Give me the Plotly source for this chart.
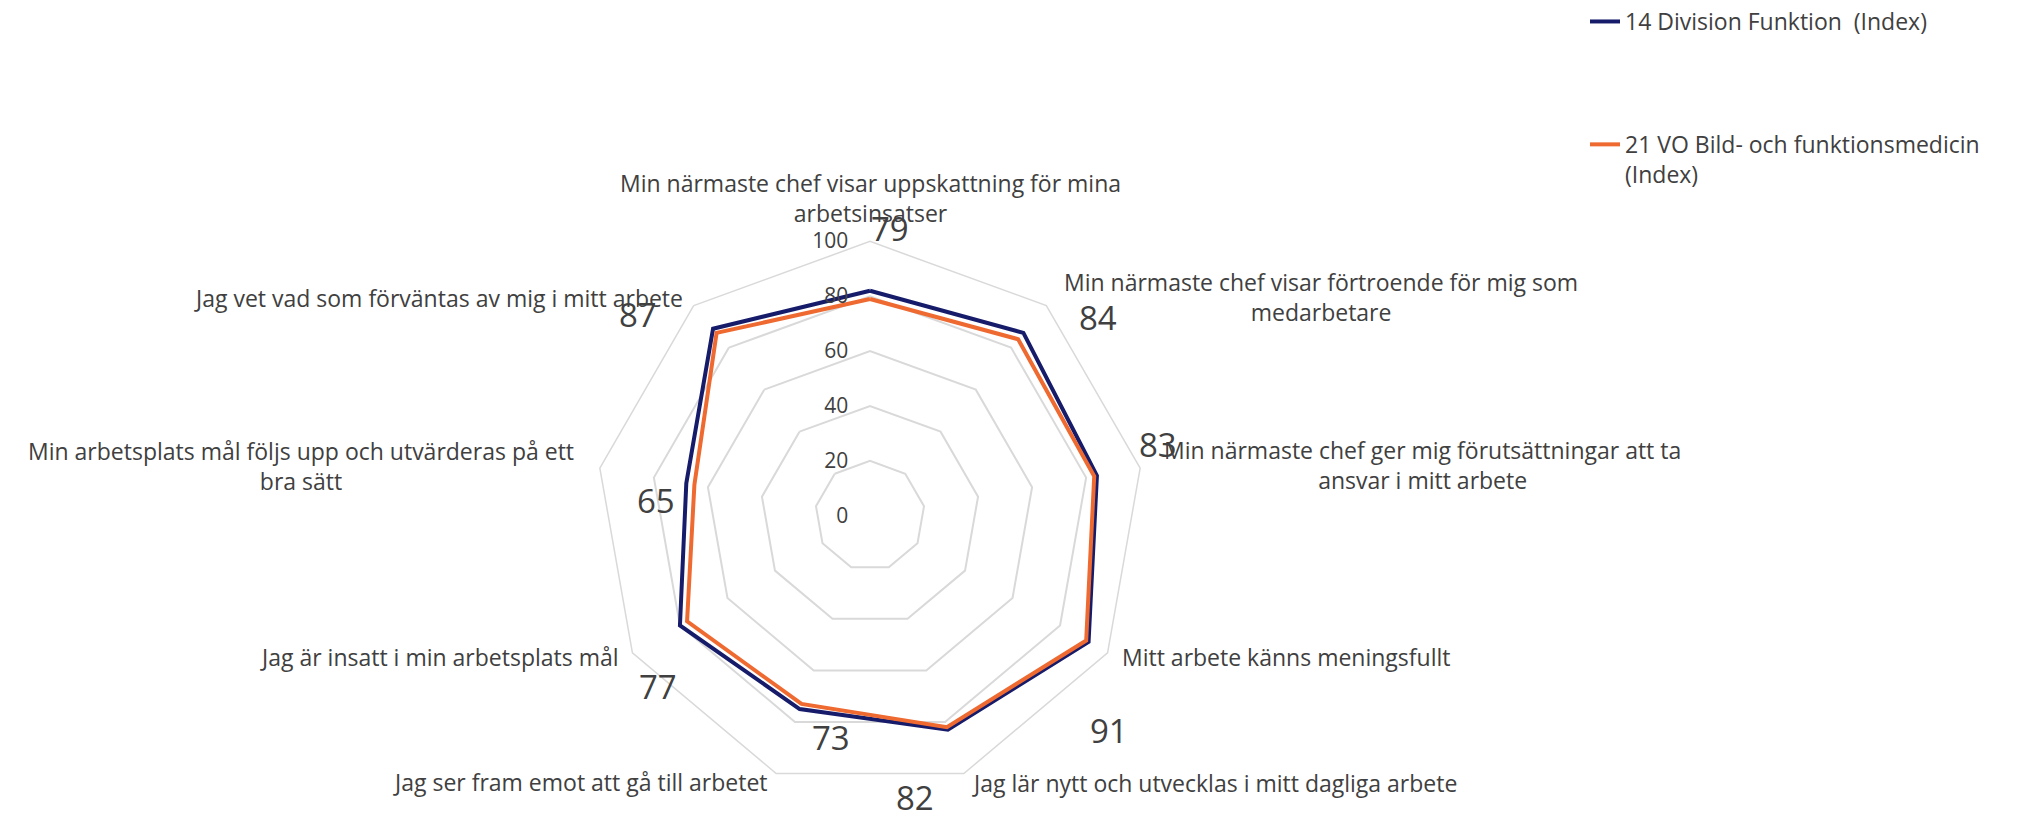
import math
import plotly.graph_objects as go

W, H = 2021, 813

categories = [
    "Min närmaste chef visar uppskattning för mina<br>arbetsinsatser",
    "Min närmaste chef visar förtroende för mig som<br>medarbetare",
    "Min närmaste chef ger mig förutsättningar att ta<br>ansvar i mitt arbete",
    "Mitt arbete känns meningsfullt",
    "Jag lär nytt och utvecklas i mitt dagliga arbete",
    "Jag ser fram emot att gå till arbetet",
    "Jag är insatt i min arbetsplats mål",
    "Min arbetsplats mål följs upp och utvärderas på ett<br>bra sätt",
    "Jag vet vad som förväntas av mig i mitt arbete",
]
division = [82, 87, 84, 92, 83, 75, 80, 68, 89]
vo_bild = [79, 84, 83, 91, 82, 73, 77, 65, 87]

name_division = "14 Division Funktion\u00a0 (Index)"
name_vo = "21 VO Bild- och funktionsmedicin<br>(Index)"

NAVY = "#161C6A"
ORANGE = "#EE6A31"
TEXT = "#404040"
GRID = "#D9D9D9"
FONT = "Open Sans"

# polar centre and outer radius in pixels (domain is built from these)
cx, cy, R = 870, 515, 275
RMAX = 100

# where the value labels sit (radius in axis units, angular nudge in degrees)
label_r = [105, 110, 108, 117, 104, 82, 99, 78, 112]
label_dtheta = [4, 9, -4, 12, 11, -10, -9, -6, -9]

# category label placement in pixels: (x, y, xanchor)
cat_pos = [
    (870, 196, "center"),
    (1321, 296, "center"),
    (1422, 464, "center"),
    (1120, 657, "left"),
    (970, 783, "left"),
    (770, 782, "right"),
    (621, 657, "right"),
    (301, 465, "center"),
    (685, 297, "right"),
]

fig = go.Figure()

fig.add_trace(go.Scatterpolar(
    r=division + division[:1], theta=categories + categories[:1],
    mode="lines", name=name_division, legendgroup="a",
    line=dict(color=NAVY, width=4),
))
fig.add_trace(go.Scatterpolar(
    r=vo_bild + vo_bild[:1], theta=categories + categories[:1],
    mode="lines", name=name_vo, legendgroup="b",
    line=dict(color=ORANGE, width=4),
))

# value labels (orange series), placed around the outer ring
step = 360 / len(categories)
for i, (v, lr, dt) in enumerate(zip(vo_bild, label_r, label_dtheta)):
    a = math.radians(i * step + dt)
    px_ = cx + R * lr / RMAX * math.sin(a)
    py_ = cy - R * lr / RMAX * math.cos(a)
    fig.add_annotation(
        x=px_ / W, y=1 - py_ / H, xref="paper", yref="paper",
        text=str(v), showarrow=False, xanchor="center", yanchor="middle",
        font=dict(family=FONT, size=33, color=TEXT),
    )

for text, (px_, py_, anchor) in zip(categories, cat_pos):
    fig.add_annotation(
        x=px_ / W, y=1 - py_ / H, xref="paper", yref="paper",
        text=text, showarrow=False, xanchor=anchor, yanchor="middle",
        align="center", font=dict(family=FONT, size=23, color=TEXT),
    )

fig.update_layout(
    width=W, height=H,
    margin=dict(l=0, r=0, t=0, b=0),
    paper_bgcolor="white",
    font=dict(family=FONT, size=20, color=TEXT),
    polar=dict(
        domain=dict(x=[(cx - R) / W, (cx + R) / W],
                    y=[1 - (cy + R) / H, 1 - (cy - R) / H]),
        bgcolor="white",
        gridshape="linear",
        radialaxis=dict(
            range=[0, RMAX], dtick=20, angle=90, tickangle=90,
            side="counterclockwise", showline=False,
            gridcolor=GRID, gridwidth=1.5,
            ticks="outside", ticklen=14, tickcolor="rgba(0,0,0,0)",
            tickfont=dict(family=FONT, size=21, color=TEXT),
        ),
        angularaxis=dict(
            type="category", direction="clockwise", rotation=90,
            showticklabels=False, ticks="",
            showgrid=False, showline=True, linecolor=GRID, linewidth=1.5,
        ),
    ),
    legend=dict(
        x=1585 / W, y=1 + 2 / H, xanchor="left", yanchor="top",
        valign="top", tracegroupgap=90,
        font=dict(family=FONT, size=23, color=TEXT),
    ),
)

# drop the browser's default body margin so the figure sits at the page corner
fig.write_html(
    "out.html",
    config={"displayModeBar": False},
    post_script="document.body.style.margin = '0';",
)
